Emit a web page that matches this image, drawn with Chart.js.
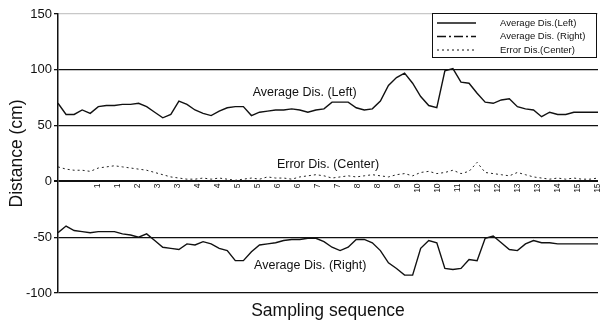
<!DOCTYPE html>
<html>
<head>
<meta charset="utf-8">
<script src="https://cdn.jsdelivr.net/npm/chart.js@4/dist/chart.umd.min.js"></script>
<style>
  html, body { margin: 0; padding: 0; background: #fff; }
  #wrap { width: 603px; height: 326px; }
</style>
</head>
<body>
<div id="wrap"><canvas id="chart"></canvas></div>
<script>
// sampling sequence tick labels (printed rotated along the zero line)
const tickLabels = ['', '', '1', '1', '2', '3', '3', '4', '4', '5', '5', '6', '6', '7', '7',
  '8', '8', '9', '10', '10', '11', '12', '12', '13', '13', '14', '15', '15'];

const yTicks = [-100, -50, 0, 50, 100, 150];

const leftDis = [70, 60, 60, 64, 61, 67, 68, 68, 69, 69, 70, 67, 62, 57, 60, 72, 69, 64, 61, 59,
  63, 66, 67, 67, 59, 62, 63, 64, 64, 65, 64, 62, 64, 65, 71, 71, 71, 66, 64, 65,
  72, 86, 93, 97, 88, 76, 68, 66, 99, 101, 89, 88, 79, 71, 70, 73, 74, 67, 65, 64,
  58, 62, 60, 60, 62, 62, 62, 62];

const rightDis = [-46, -40, -44, -45, -46, -45, -45, -45, -47, -48, -50, -47, -53, -59, -60, -61, -56, -57, -54, -56,
  -60, -62, -71, -71, -63, -57, -56, -55, -53, -52, -52, -51, -51, -54, -59, -62, -59, -52, -52, -55,
  -62, -73, -78, -84, -84, -60, -53, -55, -78, -79, -78, -70, -71, -51, -49, -55, -61, -62, -56, -53,
  -55, -55, -56, -56, -56, -56, -56, -56];

const errorDis = [13, 11, 10, 10, 9, 12, 13, 14, 13, 12, 11, 10, 8, 6, 4, 3, 2, 2, 3, 2,
  3, 2, 1, 2, 3, 2, 4, 3, 3, 2, 4, 5, 6, 5, 3, 4, 5, 4, 5, 6,
  5, 4, 6, 7, 5, 8, 9, 7, 8, 10, 7, 9, 17, 8, 7, 6, 5, 8, 6, 4,
  3, 2, 3, 2, 3, 2, 2, 3];

const seriesNames = ['Average Dis.(Left)', 'Average Dis. (Right)', 'Error Dis.(Center)'];

const INK = '#111';
const FONT = '"Liberation Sans", Arial, sans-serif';

const toPoints = arr => arr.map((v, i) => ({ x: i, y: v }));

// text labels written inside the plot, anchored in data units
const notes = [
  { text: 'Average Dis. (Left)', x: 30.6, y: 80 },
  { text: 'Error Dis. (Center)', x: 33.5, y: 15 },
  { text: 'Average Dis. (Right)', x: 31.3, y: -75 }
];

const notePlugin = {
  id: 'notes',
  afterDatasetsDraw(chart) {
    const { ctx, scales } = chart;
    ctx.save();
    ctx.fillStyle = INK;
    ctx.font = '12.5px ' + FONT;
    ctx.textAlign = 'center';
    ctx.textBaseline = 'middle';
    notes.forEach(n => {
      ctx.fillText(n.text, scales.x.getPixelForValue(n.x), scales.y.getPixelForValue(n.y));
    });
    ctx.restore();
  }
};

// boxed legend in the upper right corner
const legendPlugin = {
  id: 'boxLegend',
  afterDraw(chart) {
    const { ctx, chartArea } = chart;
    const w = 164, h = 44;
    const x0 = chartArea.right - w - 2, y0 = chartArea.top - 1;
    const dashes = [[], [9, 3, 2, 3], [2, 3]];
    ctx.save();
    ctx.fillStyle = '#fff';
    ctx.fillRect(x0, y0, w, h);
    ctx.strokeStyle = INK;
    ctx.lineWidth = 1;
    ctx.strokeRect(x0 + 0.5, y0 + 0.5, w, h);
    ctx.font = '9.5px ' + FONT;
    ctx.textBaseline = 'middle';
    ctx.fillStyle = INK;
    seriesNames.forEach((name, i) => {
      const yy = y0 + 10 + i * 13.5;
      ctx.setLineDash(dashes[i]);
      ctx.lineWidth = i === 2 ? 1 : 1.3;
      ctx.beginPath();
      ctx.moveTo(x0 + 5, yy);
      ctx.lineTo(x0 + 44, yy);
      ctx.stroke();
      ctx.setLineDash([]);
      ctx.fillText(name, x0 + 68, yy);
    });
    ctx.restore();
  }
};

new Chart(document.getElementById('chart'), {
  type: 'line',
  data: {
    datasets: [
      {
        label: seriesNames[0],
        data: toPoints(leftDis),
        borderColor: INK,
        borderWidth: 1.4,
        pointRadius: 0,
        tension: 0
      },
      {
        label: seriesNames[1],
        data: toPoints(rightDis),
        borderColor: INK,
        borderWidth: 1.4,
        pointRadius: 0,
        tension: 0
      },
      {
        label: seriesNames[2],
        data: toPoints(errorDis),
        borderColor: '#222',
        borderWidth: 1,
        borderDash: [2, 3],
        pointRadius: 0,
        tension: 0
      }
    ]
  },
  options: {
    responsive: true,
    maintainAspectRatio: false,
    animation: false,
    layout: { padding: { top: 14, right: 5, left: 0, bottom: 0 } },
    plugins: {
      legend: { display: false },
      tooltip: { enabled: false }
    },
    scales: {
      x: {
        type: 'linear',
        min: 0,
        max: leftDis.length - 1,
        ticks: { display: false },
        grid: { display: false },
        border: { display: false },
        title: {
          display: true,
          text: 'Sampling sequence',
          color: INK,
          font: { family: FONT, size: 17.5 },
          padding: { top: 0, bottom: 4 }
        },
        afterFit: scale => { scale.height = 33; scale.paddingLeft = 0; scale.paddingRight = 0; }
      },
      xt: {
        type: 'category',
        labels: tickLabels,
        position: { y: 0 },
        offset: false,
        grid: { display: false, drawTicks: false },
        border: { display: false },
        ticks: {
          autoSkip: false,
          minRotation: 90,
          maxRotation: 90,
          padding: 2,
          color: INK,
          font: { family: FONT, size: 8.5 }
        },
        afterFit: scale => { scale.paddingLeft = 0; scale.paddingRight = 0; }
      },
      y: {
        min: -100,
        max: 150,
        afterBuildTicks: scale => { scale.ticks = yTicks.map(v => ({ value: v })); },
        ticks: {
          color: INK,
          padding: 2,
          font: { family: FONT, size: 13 }
        },
        grid: {
          color: c => (c.tick && c.tick.value === 150) ? '#c8c8c8' : INK,
          lineWidth: c => (c.tick && c.tick.value === 0) ? 2 : 1.3,
          tickLength: 4,
          tickColor: INK
        },
        border: { display: true, color: INK, width: 1.5 },
        title: {
          display: true,
          text: 'Distance (cm)',
          color: INK,
          font: { family: FONT, size: 17.5 },
          padding: { top: 7, bottom: 0 }
        },
        afterFit: scale => { scale.width = 58; }
      }
    }
  },
  plugins: [notePlugin, legendPlugin]
});
</script>
</body>
</html>
